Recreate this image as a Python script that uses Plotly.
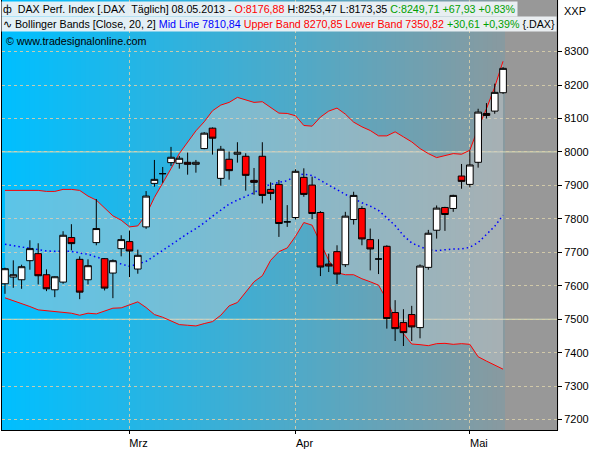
import plotly.graph_objects as go

# ---------------- data ----------------
dates = [
    "2013-02-08", "2013-02-11", "2013-02-12", "2013-02-13", "2013-02-14", "2013-02-15",
    "2013-02-18", "2013-02-19", "2013-02-20", "2013-02-21", "2013-02-22",
    "2013-02-25", "2013-02-26", "2013-02-27", "2013-02-28",
    "2013-03-01", "2013-03-04", "2013-03-05", "2013-03-06", "2013-03-07", "2013-03-08",
    "2013-03-11", "2013-03-12", "2013-03-13", "2013-03-14", "2013-03-15",
    "2013-03-18", "2013-03-19", "2013-03-20", "2013-03-21", "2013-03-22",
    "2013-03-25", "2013-03-26", "2013-03-27", "2013-03-28",
    "2013-04-02", "2013-04-03", "2013-04-04", "2013-04-05",
    "2013-04-08", "2013-04-09", "2013-04-10", "2013-04-11", "2013-04-12",
    "2013-04-15", "2013-04-16", "2013-04-17", "2013-04-18", "2013-04-19",
    "2013-04-22", "2013-04-23", "2013-04-24", "2013-04-25", "2013-04-26",
    "2013-04-29", "2013-04-30",
    "2013-05-02", "2013-05-03", "2013-05-06", "2013-05-07", "2013-05-08",
]

open_ = [7606, 7626, 7618, 7675, 7696, 7633, 7588, 7611, 7744, 7679,
         7618, 7729, 7681, 7638, 7711, 7732, 7650, 7776, 7906, 7935,
         7968, 7966, 7969, 7963, 8010, 8071, 7921, 7978, 7993, 7987,
         7915, 7987, 7888, 7903, 7791, 7804, 7924, 7901, 7819, 7665,
         7702, 7663, 7798, 7831, 7738, 7680, 7718, 7520, 7490, 7514,
         7475, 7655, 7766, 7834, 7831, 7928, 7903, 7969, 8115, 8122, 8176.88]
high = [7654, 7676, 7663, 7736, 7727, 7649, 7628, 7763, 7784, 7688,
        7679, 7859, 7683, 7679, 7751, 7765, 7708, 7883, 7976, 7955,
        8015, 7988, 7998, 7976, 8059, 8073, 8018, 8001, 8029, 7996,
        7952, 8029, 7909, 7916, 7841, 7948, 7951, 7926, 7823, 7696,
        7721, 7821, 7881, 7838, 7771, 7739, 7721, 7557, 7530, 7540,
        7664, 7767, 7840, 7836, 7872, 7964, 8004, 8129, 8146, 8204, 8253.47]
low = [7576, 7594, 7591, 7648, 7604, 7584, 7566, 7606, 7706, 7560,
       7604, 7721, 7586, 7563, 7688, 7626, 7636, 7770, 7896, 7908,
       7958, 7950, 7932, 7938, 8008, 7992, 7899, 7917, 7968, 7884,
       7872, 7846, 7856, 7746, 7776, 7798, 7866, 7799, 7629, 7641,
       7605, 7656, 7783, 7721, 7646, 7635, 7472, 7435, 7420, 7435,
       7443, 7648, 7741, 7764, 7821, 7890, 7894, 7953, 8100, 8114, 8173.35]
close = [7651, 7633, 7657, 7711, 7630, 7591, 7627, 7751, 7726, 7581,
         7660, 7771, 7593, 7675, 7738, 7704, 7691, 7868, 7918, 7935,
         7984, 7981, 7963, 7969, 8056, 8041, 8008, 7944, 7999, 7930,
         7909, 7870, 7876, 7786, 7791, 7942, 7873, 7816, 7656, 7659,
         7635, 7808, 7870, 7740, 7710, 7680, 7502, 7472, 7460, 7477,
         7659, 7757, 7832, 7813, 7870, 7912, 7961, 8119, 8109, 8178, 8249.71]

bb_upper = [7885, 7885, 7885, 7885, 7885, 7882, 7882, 7888, 7888, 7885,
            7868, 7856, 7832, 7809, 7796, 7776, 7779, 7812, 7864, 7905,
            7950, 7995, 8030, 8063, 8090, 8123, 8140, 8148, 8163, 8155,
            8148, 8150, 8133, 8116, 8115, 8108, 8079, 8077, 8104, 8122,
            8131, 8113, 8089, 8075, 8064, 8048, 8048, 8060, 8045, 8030,
            8010, 7995, 7983, 7988, 7995, 7993, 8005, 8071, 8129, 8194, 8270.85]
bb_mid = [7724, 7720, 7716, 7711, 7706, 7704, 7703, 7704, 7703, 7698,
          7694, 7686, 7679, 7671, 7664, 7658, 7665, 7673, 7689, 7706,
          7723, 7739, 7756, 7771, 7788, 7808, 7826, 7844, 7856, 7866,
          7878, 7894, 7903, 7909, 7914, 7928, 7934, 7929, 7915, 7899,
          7885, 7873, 7861, 7848, 7838, 7825, 7803, 7780, 7750, 7728,
          7717, 7708, 7705, 7708, 7710, 7710, 7715, 7729, 7752, 7778, 7810.84]
bb_lower = [7564, 7556, 7548, 7538, 7528, 7526, 7524, 7520, 7518, 7512,
            7518, 7516, 7525, 7533, 7534, 7542, 7552, 7535, 7514, 7506,
            7496, 7484, 7482, 7480, 7487, 7493, 7512, 7540, 7550, 7580,
            7612, 7630, 7676, 7702, 7713, 7748, 7789, 7781, 7726, 7676,
            7639, 7633, 7633, 7621, 7612, 7602, 7558, 7500, 7457, 7426,
            7424, 7421, 7427, 7428, 7425, 7427, 7425, 7388, 7375, 7362, 7350.82]

month_ticks = ["2013-03-01", "2013-04-02", "2013-05-02"]
month_labels = ["Mrz", "Apr", "Mai"]
price_ticks = [7200, 7300, 7400, 7500, 7600, 7700, 7800, 7900, 8000, 8100, 8200, 8300]
ref_levels = [7500, 8000]

header_1 = ("ф&nbsp;&nbsp;DAX Perf. Index [.DAX&nbsp;&nbsp;Täglich] 08.05.2013 - "
            "<span style='color:#ff0000'>O:8176,88</span> H:8253,47 L:8173,35 "
            "<span style='color:#00a000'>C:8249,71 +67,93 +0,83%</span>")
header_2 = ("∿&nbsp;Bollinger Bands [Close, 20, 2] "
            "<span style='color:#0000ff'>Mid Line 7810,84</span> "
            "<span style='color:#ff0000'>Upper Band 8270,85 Lower Band 7350,82</span> "
            "<span style='color:#00a000'>+30,61 +0,39%</span> {.DAX}")
header_3 = "©&nbsp;www.tradesignalonline.com"

FONT = "Liberation Sans, Arial, sans-serif"
X_RANGE = [-0.36, 66.5]
Y_RANGE = [7169, 8454]

fig = go.Figure()

# Bollinger band area + lines (base subplot, behind the candles)
fig.add_trace(go.Scatter(x=dates, y=bb_lower, mode="lines",
                         line=dict(color="#ff0000", width=1), showlegend=False,
                         hoverinfo="skip"))
fig.add_trace(go.Scatter(x=dates, y=bb_upper, mode="lines", fill="tonexty",
                         fillcolor="rgba(205,205,205,0.45)",
                         line=dict(color="#ff0000", width=1), showlegend=False,
                         hoverinfo="skip"))
fig.add_trace(go.Scatter(x=dates, y=bb_mid, mode="lines",
                         line=dict(color="#0000ff", width=1.5, dash="1.5px,3px"),
                         showlegend=False, hoverinfo="skip"))

# candles on an overlaying subplot so they sit above the band fill
fig.add_trace(go.Candlestick(
    x=dates, open=open_, high=high, low=low, close=close,
    increasing=dict(fillcolor="#ffffff", line=dict(color="#000000", width=1)),
    decreasing=dict(fillcolor="#ff0000", line=dict(color="#000000", width=1)),
    whiskerwidth=0, showlegend=False, xaxis="x2", yaxis="y2"))

# background gradient (cyan -> grey) made of thin strips
shapes = []
n_strips = 120
c0 = (0, 191, 255)
c1 = (150, 150, 150)
for i in range(n_strips):
    t = i / (n_strips - 1)
    col = tuple(int(round(c0[j] + (c1[j] - c0[j]) * t)) for j in range(3))
    shapes.append(dict(type="rect", xref="paper", yref="paper",
                       x0=i / n_strips, x1=(i + 1) / n_strips + 0.002, y0=0, y1=1,
                       fillcolor="rgb(%d,%d,%d)" % col, line=dict(width=0),
                       layer="below"))
# flat grey area to the right of the last bar
shapes.append(dict(type="rect", xref="paper", yref="paper",
                   x0=(505 - 2) / 555, x1=1, y0=0, y1=1,
                   fillcolor="rgb(152,152,152)", line=dict(width=0), layer="below"))
for lv in ref_levels:
    shapes.append(dict(type="line", xref="paper", yref="y", x0=0, x1=1, y0=lv, y1=lv,
                       line=dict(color="rgba(215,225,190,0.95)", width=1),
                       layer="between"))

HF = 10.7
annotations = [
    dict(text=header_1, xref="paper", yref="paper", x=-1 / 555, y=1, yshift=-1,
         xanchor="left", yanchor="top", showarrow=False, align="left",
         font=dict(family=FONT, size=HF, color="#000000"),
         bgcolor="rgba(238,242,245,0.95)", borderpad=1),
    dict(text=header_2, xref="paper", yref="paper", x=-1 / 555, y=1, yshift=-16,
         xanchor="left", yanchor="top", showarrow=False, align="left",
         font=dict(family=FONT, size=HF, color="#000000"),
         bgcolor="rgba(238,242,245,0.95)", borderpad=1),
    dict(text=header_3, xref="paper", yref="paper", x=2 / 555, y=1, yshift=-33,
         xanchor="left", yanchor="top", showarrow=False, align="left",
         font=dict(family=FONT, size=HF, color="#000000")),
    dict(text="XXP", xref="paper", yref="paper", x=1, xshift=5, y=1, yshift=-3,
         xanchor="left", yanchor="top", showarrow=False,
         font=dict(family=FONT, size=11, color="#000000")),
]

fig.update_layout(
    width=600, height=450,
    margin=dict(l=2, r=43, t=0, b=20),
    paper_bgcolor="#ffffff", plot_bgcolor="rgba(0,0,0,0)",
    shapes=shapes, annotations=annotations,
    showlegend=False, boxgap=0.2, boxgroupgap=0,
    font=dict(family=FONT, size=11, color="#000000"),
    xaxis=dict(
        type="category", categoryorder="array", categoryarray=dates,
        range=X_RANGE, rangeslider=dict(visible=False),
        tickmode="array", tickvals=month_ticks, ticktext=month_labels,
        ticks="outside", ticklen=3, tickcolor="#000000", ticklabelshift=9,
        tickfont=dict(family=FONT, size=11, color="#000000"),
        showgrid=True, gridcolor="rgba(215,205,170,0.9)", griddash="dot", gridwidth=1,
        showline=True, linecolor="#000000", linewidth=1, zeroline=False,
    ),
    yaxis=dict(
        side="right", range=Y_RANGE, tickmode="array", tickvals=price_ticks,
        ticks="outside", ticklen=4, tickcolor="#000000",
        tickfont=dict(family=FONT, size=11, color="#000000"),
        showgrid=True, gridcolor="rgba(215,205,170,0.9)", griddash="dot", gridwidth=1,
        showline=True, linecolor="#000000", linewidth=1, mirror=True, zeroline=False,
    ),
    xaxis2=dict(
        overlaying="x", type="category", categoryorder="array", categoryarray=dates,
        range=X_RANGE, rangeslider=dict(visible=False), visible=False,
        showgrid=False, zeroline=False,
    ),
    yaxis2=dict(
        overlaying="y", range=Y_RANGE, visible=False, showgrid=False, zeroline=False,
    ),
)

fig.write_html("out.html", config={"displayModeBar": False},
               post_script="document.body.style.margin='0';document.body.style.overflow='hidden';")
